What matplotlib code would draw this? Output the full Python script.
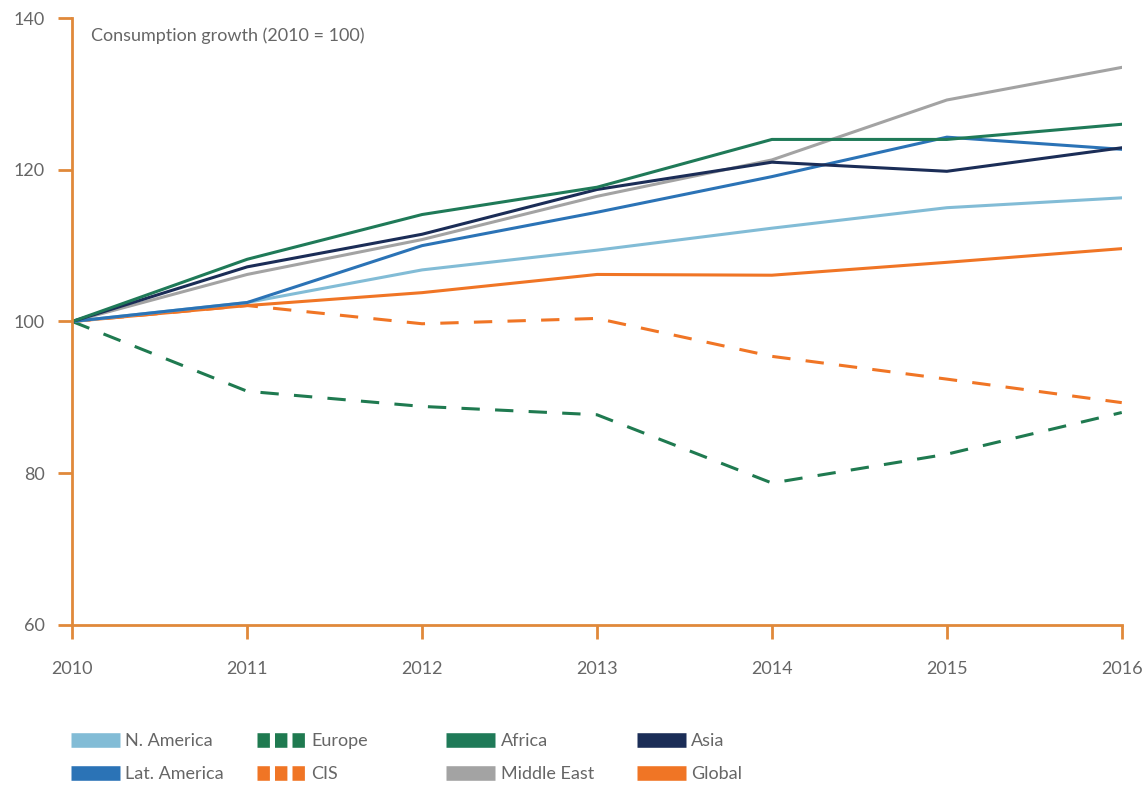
import matplotlib.pyplot as plt
from matplotlib.lines import Line2D

plt.rcParams['font.family'] = ['Lato', 'DejaVu Sans']

years = [2010, 2011, 2012, 2013, 2014, 2015, 2016]

# Consumption index, 2010 = 100
n_america = [100, 102.5, 106.8, 109.4, 112.3, 115.0, 116.3]
lat_america = [100, 102.5, 110.0, 114.4, 119.1, 124.3, 122.7]
asia = [100, 107.2, 111.5, 117.4, 121.0, 119.8, 122.9]
africa = [100, 108.2, 114.1, 117.7, 124.0, 124.0, 126.0]
middle_east = [100, 106.2, 110.8, 116.5, 121.3, 129.2, 133.5]
global_ = [100, 102.1, 103.8, 106.2, 106.1, 107.8, 109.6]
cis = [100, 102.1, 99.7, 100.4, 95.4, 92.4, 89.3]
europe = [100, 90.8, 88.8, 87.7, 78.7, 82.5, 88.0]

spine_col = '#e0893a'
txt_col = '#666666'

fig = plt.figure(figsize=(11.47, 7.86), dpi=100)
ax = fig.add_axes([0.063, 0.205, 0.915, 0.772])

# name, values, colour, dashed
series = [
    ('N. America', n_america, '#82bcd6', False),
    ('Lat. America', lat_america, '#2b73b6', False),
    ('Europe', europe, '#1f7a50', True),
    ('CIS', cis, '#f07525', True),
    ('Africa', africa, '#1f7a58', False),
    ('Middle East', middle_east, '#a3a3a3', False),
    ('Asia', asia, '#1b2d57', False),
    ('Global', global_, '#f07525', False),
]

draw_order = ['Global', 'CIS', 'Europe', 'N. America', 'Middle East', 'Lat. America', 'Asia', 'Africa']
lookup = {s[0]: s for s in series}
for name in draw_order:
    _, vals, col, dashed = lookup[name]
    ax.plot(years, vals, color=col, lw=2.2, ls=(0, (6, 5)) if dashed else '-')

ax.set_xlim(2010, 2016)
ax.set_ylim(60, 140)
ax.set_xticks(years)
ax.set_yticks([60, 80, 100, 120, 140])
for side in ['top', 'right']:
    ax.spines[side].set_visible(False)
for side in ['left', 'bottom']:
    ax.spines[side].set_color(spine_col)
    ax.spines[side].set_linewidth(2)
ax.tick_params(axis='both', colors=spine_col, width=2, length=10, labelcolor=txt_col, labelsize=13)
ax.tick_params(axis='x', pad=16)
ax.tick_params(axis='y', pad=10)

ax.text(0.018, 0.985, 'Consumption growth (2010 = 100)', transform=ax.transAxes,
        ha='left', va='top', fontsize=13, color=txt_col)

# legend: 4 columns of 2, each column placed on its own
col_x = [0.048, 0.210, 0.375, 0.541]
for i, x in enumerate(col_x):
    pair = series[2 * i:2 * i + 2]
    handles = [Line2D([0], [0], color=col, lw=10.5, solid_capstyle='butt',
                      dash_capstyle='butt', ls=(0, (0.85, 0.35)) if dashed else '-')
               for _, _, col, dashed in pair]
    fig.legend(handles, [p[0] for p in pair], loc='lower left',
               bbox_to_anchor=(x, -0.016), frameon=False, fontsize=13,
               handlelength=2.7, handletextpad=0.3, labelspacing=0.95,
               labelcolor=txt_col)

fig.savefig('out.png', dpi=100)
